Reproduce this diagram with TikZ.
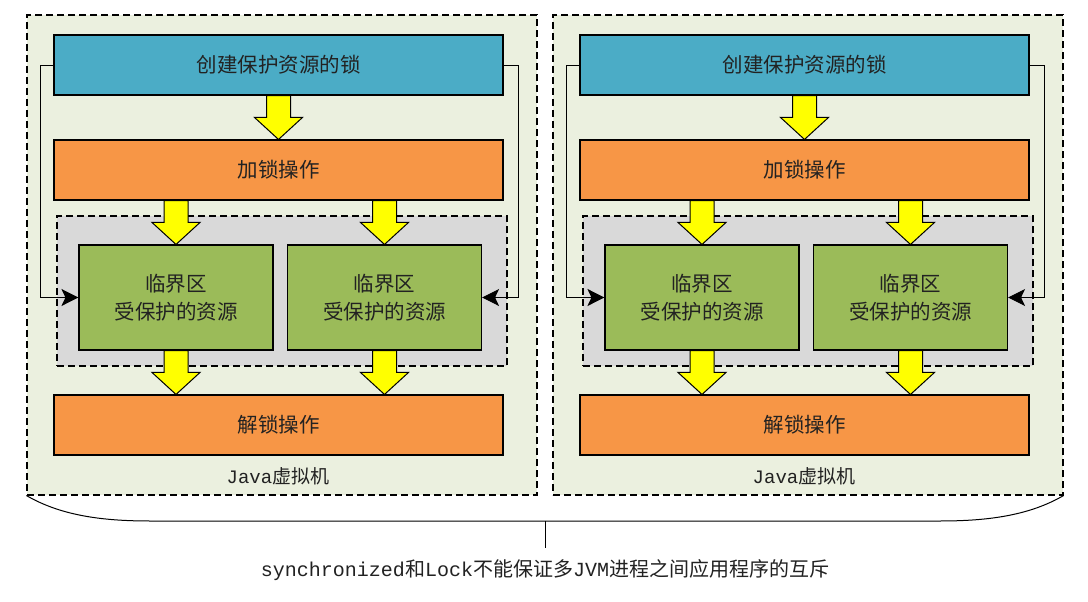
\documentclass[tikz,border=0pt]{standalone}
\usepackage{fontspec}
\setmainfont{Noto Sans CJK SC}
\newfontfamily\mono{Liberation Mono}
\usetikzlibrary{calc,arrows.meta}
\definecolor{panelbg}{HTML}{EBF0DF}
\definecolor{bluebox}{HTML}{4BACC6}
\definecolor{orangebox}{HTML}{F79646}
\definecolor{greenbox}{HTML}{9BBB59}
\definecolor{greyzone}{HTML}{D9D9D9}
\definecolor{yellowarr}{HTML}{FFFF00}
\definecolor{txt}{HTML}{222222}
\newcommand\yarr[2]{\path let \p1=#1, \p2=#2 in [draw=black, fill=yellowarr, line width=1pt, line join=miter]
  (\x2-12pt,\y1) -- (\x2+12pt,\y1) -- (\x2+12pt,\y2+22pt) -- (\x2+24pt,\y2+22pt) -- (\x2,\y2)
  -- (\x2-24pt,\y2+22pt) -- (\x2-12pt,\y2+22pt) -- cycle;}
\begin{document}
\begin{tikzpicture}[x=1pt,y=-1pt,
  panel/.style={draw=black, fill=panelbg, dash pattern=on 7pt off 4pt, line width=1.1pt, minimum width=510pt, minimum height=480pt, inner sep=0pt},
  zone/.style={draw=black, fill=greyzone, dash pattern=on 7pt off 4pt, line width=1.1pt, minimum width=450pt, minimum height=150pt, inner sep=0pt},
  wide/.style={draw=black, line width=1.1pt, minimum width=449pt, minimum height=60pt, inner sep=0pt, text=txt, font=\fontsize{20.5}{24}\selectfont},
  crit/.style={draw=black, fill=greenbox, line width=1.1pt, minimum width=194pt, minimum height=105pt, inner sep=0pt, align=center, text=txt, font=\fontsize{20.5}{28}\selectfont},
  side/.style={draw=black, line width=0.9pt, -{Stealth[length=17pt,width=17pt,inset=4pt]}},
  lbl/.style={text=txt, font=\fontsize{19}{23}\selectfont}
]
\useasboundingbox[fill=white] (0,0) rectangle (1088,602);

\foreach \i/\dx in {1/0, 2/526} {
  \node[panel] (pan\i) at (282+\dx,255) {};
  \node[zone] (gz\i) at (282+\dx,291) {};
  \node[wide, fill=bluebox] (cb\i) at (278.5+\dx,65) {创建保护资源的锁};
  \node[wide, fill=orangebox] (lk\i) at (278.5+\dx,170) {加锁操作};
  \node[crit] (ga\i) at (176+\dx,297.5) {临界区\\受保护的资源};
  \node[crit] (gb\i) at (384.5+\dx,297.5) {临界区\\受保护的资源};
  \node[wide, fill=orangebox] (ul\i) at (278.5+\dx,425) {解锁操作};
  \node[lbl] (jvm\i) at (278+\dx,476) {{\mono Java}虚拟机};
  \yarr{(cb\i.south)}{(lk\i.north)}
  \yarr{(lk\i.south)}{(ga\i.north)}
  \yarr{(lk\i.south)}{(gb\i.north)}
  \yarr{(ga\i.south)}{(ul\i.north -| ga\i.south)}
  \yarr{(gb\i.south)}{(ul\i.north -| gb\i.south)}
  \draw[side] (cb\i.west) -- ++(-13,0) |- (ga\i.west);
  \draw[side] (cb\i.east) -- ++(15,0) |- (gb\i.east);
}

\coordinate (bm) at (545,521);
\coordinate (bt) at (545,548);
\draw[line width=1pt] (pan1.south west) .. controls (60,515) and (100,521) .. (150,521) -- (bm) -- (940,521)
  .. controls (990,521) and (1030,515) .. (pan2.south east);
\node[lbl, font=\fontsize{20}{24}\selectfont] (note) at (545,570) {{\mono synchronized}和{\mono Lock}不能保证多{\mono JVM}进程之间应用程序的互斥};
\draw[line width=1pt] (bm) -- (bt);
\end{tikzpicture}
\end{document}
